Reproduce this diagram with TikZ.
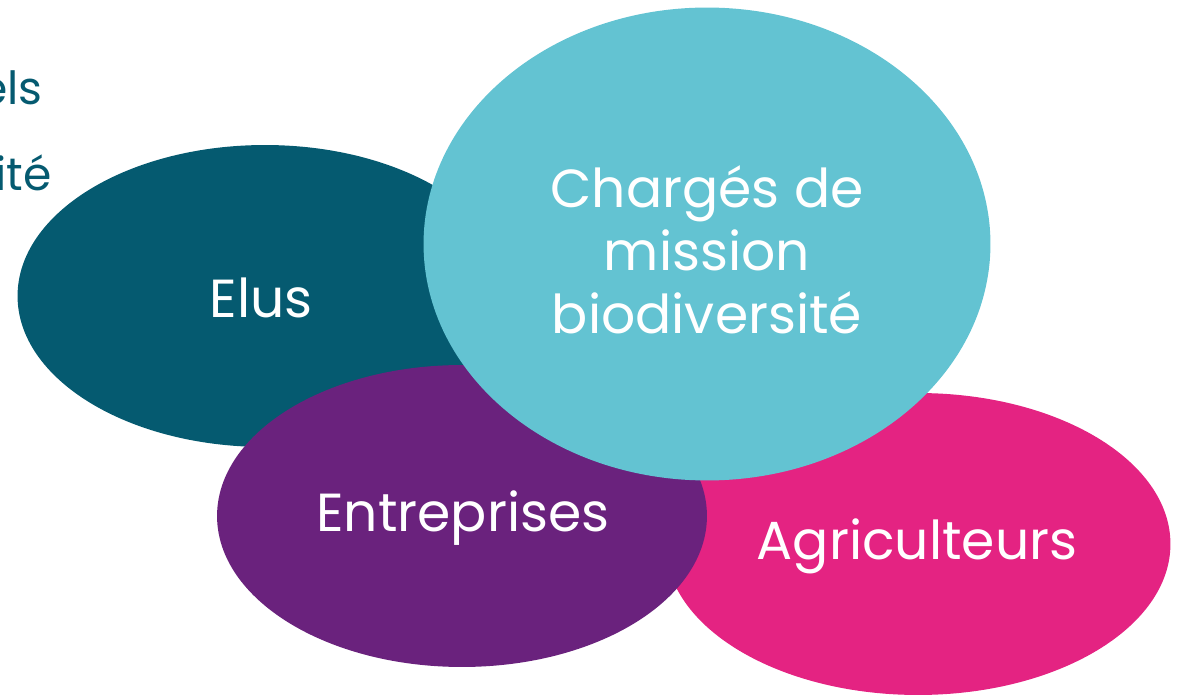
\documentclass[tikz,border=0pt]{standalone}
\usepackage{fontspec}
\setmainfont{Poppins}
\usetikzlibrary{shapes.geometric,positioning}
\definecolor{teal}{HTML}{055A70}
\definecolor{purple}{HTML}{6A227D}
\definecolor{pink}{HTML}{E42382}
\definecolor{cyan}{HTML}{63C3D2}

\tikzset{
    blob/.style={ellipse, inner sep=0pt, minimum height=6.04cm},
    blobtext/.style={text=white, align=center, inner sep=0pt,
        font=\fontsize{30.5}{35.7}\selectfont},
    cut/.style={anchor=base east, text=teal, inner sep=0pt,
        font=\fontsize{26}{30}\selectfont}
}

\begin{document}
\begin{tikzpicture}[x=0.02cm, y=-0.02cm]
    \useasboundingbox (0,0) rectangle (1183,695);
    \clip (0,0) rectangle (1183,695);

    % cut-off text on the left
    \node [cut] (els) at (43,105) {els};
    \node [cut] (ite) at (52,191) {ité};

    % ellipses, back to front
    \node [blob, fill=teal, minimum width=9.9cm] (elus) at (265,296) {};
    \node [blobtext] (elustxt) at (261,298) {Elus};
    \node [blob, fill=pink, minimum width=10.1cm] (agri) at (918,544) {};
    \node [blobtext] (agritxt) at (917,546) {Agriculteurs};
    \node [blob, fill=purple, minimum width=9.8cm] (entr) at (462,516) {};
    \node [blobtext] (entrtxt) at (463,518) {Entreprises};
    \node [blob, fill=cyan, minimum width=11.34cm, minimum height=9.46cm] (charg) at (707,244) {};
    \node [blobtext] (chargtxt) at (707,250) {Chargés de\\mission\\biodiversité};
\end{tikzpicture}
\end{document}
